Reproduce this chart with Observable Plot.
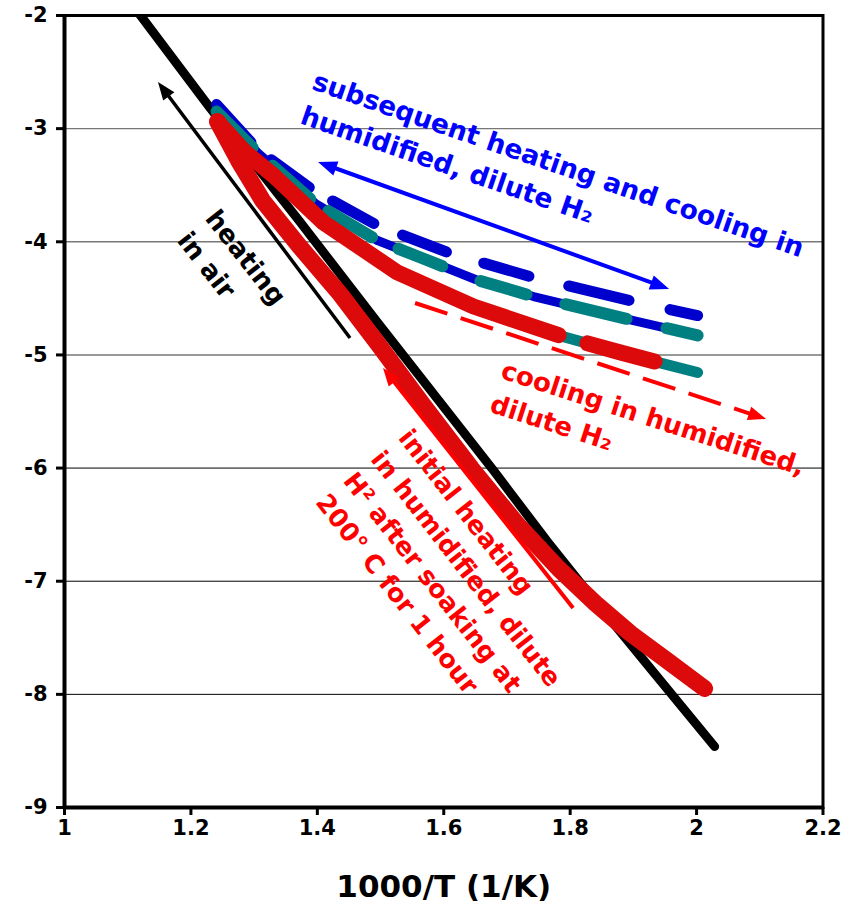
<!DOCTYPE html>
<html><head><meta charset="utf-8">
<script src="https://cdn.jsdelivr.net/npm/d3@7"></script>
<script src="https://cdn.jsdelivr.net/npm/@observablehq/plot@0.6"></script>
<style>body{margin:0;background:#fff} #chart svg{display:block}</style>
</head><body><div id="chart"></div>
<script>
// ---- ticks / labels
const xTicks = [1, 1.2, 1.4, 1.6, 1.8, 2, 2.2];
const yTicks = [-9, -8, -7, -6, -5, -4, -3, -2];
const gridValues = [-3, -4, -5, -6, -7, -8];
const xLabel = "1000/T (1/K)";

// ---- series (x = 1000/T, y = log value)
const airX = [1.1179, 1.2310, 1.3734, 1.4953, 1.6788, 1.7627, 1.8323, 1.9272, 2.0285];
const airY = [-1.982, -2.822, -3.830, -4.713, -6.022, -6.640, -7.126, -7.772, -8.461];

const initHeatX = [1.2421, 1.2753, 1.3133, 1.3734, 1.4367, 1.4980, 1.5680, 1.6440, 1.7168, 1.7816, 1.8402, 1.8956, 1.9557, 2.0127];
const initHeatY = [-2.937, -3.282, -3.635, -4.051, -4.466, -4.917, -5.447, -6.004, -6.499, -6.888, -7.197, -7.462, -7.710, -7.948];

const cycleAX = [1.2405, 1.3070, 1.3940, 1.4953, 1.6108, 1.7421, 1.9003, 2.0016];
const cycleAY = [-2.787, -3.193, -3.547, -3.856, -4.104, -4.316, -4.528, -4.652];

const cycleBX = [1.2405, 1.3054, 1.3972, 1.4953, 1.5633, 1.6503, 1.7421, 1.9003, 2.0016];
const cycleBY = [-2.849, -3.211, -3.662, -3.989, -4.139, -4.333, -4.484, -4.696, -4.828];

const cycleCX = [1.2421, 1.2864, 1.3307, 1.4098, 1.5269, 1.6472, 1.7880, 1.8797, 1.9335, 2.0016];
const cycleCY = [-2.937, -3.211, -3.414, -3.830, -4.272, -4.572, -4.837, -4.979, -5.058, -5.155];

const coolX = [1.2421, 1.2864, 1.3307, 1.4098, 1.5269, 1.6472, 1.7880, 1.8797, 1.9335];
const coolY = [-2.937, -3.211, -3.414, -3.830, -4.272, -4.572, -4.837, -4.979, -5.058];

// ---- annotation arrows (data coordinates)
const arrowX1 = [1.4525, 1.4019, 1.5554, 1.8054];
const arrowY1 = [-4.855, -3.299, -4.5455, -7.241];
const arrowX2 = [1.1487, 1.9573, 2.1108, 1.5047];
const arrowY2 = [-2.592, -4.4218, -5.5708, -5.120];

// ---- annotation texts
const annoText = [
  "heating\nin air",
  "subsequent heating and cooling in\nhumidified, dilute H\u2082",
  "cooling in humidified,\ndilute H\u2082",
  "initial heating\nin humidified, dilute\nH\u00B2 after soaking at\n200\u00B0 C for 1 hour"
];
const annoX = [1.245, 1.400, 1.698, 1.550];
const annoY = [-3.700, -2.495, -5.050, -5.640];

const toRows = (xs, ys) => xs.map((x, i) => ({x, y: ys[i]}));
const air = toRows(airX, airY);
const initHeat = toRows(initHeatX, initHeatY);
const cycleA = toRows(cycleAX, cycleAY);
const cycleB = toRows(cycleBX, cycleBY);
const cycleC = toRows(cycleCX, cycleCY);
const cool = toRows(coolX, coolY);

const annoStyle = [
  {fill: "#000", rotate: 52, size: 26},
  {fill: "#0000ff", rotate: 19, size: 26.5},
  {fill: "#ff0000", rotate: 18, size: 26},
  {fill: "#ff0000", rotate: 52, size: 25.5}
];
const arrowStyle = [
  {color: "#000", width: 3.5, both: false, dash: null, hl: 18, hw: 7},
  {color: "#0000ff", width: 4, both: true, dash: null, hl: 19, hw: 7.5},
  {color: "#ff0000", width: 4, both: false, dash: "34,14", hl: 18, hw: 7},
  {color: "#ff0000", width: 4, both: false, dash: null, hl: 18, hw: 7}
];

const FONT = "'DejaVu Sans', Verdana, sans-serif";
const lineOpts = {x: "x", y: "y", strokeLinecap: "round", strokeLinejoin: "round"};

const plot = Plot.plot({
  width: 846, height: 910,
  marginLeft: 64, marginRight: 23.5, marginTop: 15, marginBottom: 103,
  x: {domain: [1, 2.2]},
  y: {domain: [-9, -2]},
  style: {fontFamily: FONT, background: "#fff", overflow: "visible"},
  marks: [
    Plot.ruleY(gridValues.filter(v => v >= -5), {stroke: "#777", strokeWidth: 1.4}),
    Plot.ruleY(gridValues.filter(v => v < -5), {stroke: "#000", strokeWidth: 1}),
    Plot.line(air, {...lineOpts, stroke: "#000", strokeWidth: 9, clip: true}),
    Plot.line(cycleA, {...lineOpts, stroke: "#0000cc", strokeWidth: 11,
      strokeDasharray: "51,27,47,27,47,31,47,39,47,41,62,42,80"}),
    Plot.line(cycleB, {...lineOpts, stroke: "#0000cc", strokeWidth: 9}),
    Plot.line(cycleB, {...lineOpts, stroke: "#008080", strokeWidth: 12,
      strokeDasharray: "51,27,50,22,51,29,47,41,48,40,63,41,80"}),
    Plot.line(cycleC, {...lineOpts, stroke: "#008080", strokeWidth: 11}),
    Plot.line(cool, {...lineOpts, stroke: "#dc0a0a", strokeWidth: 16, strokeDasharray: "409,30,300"}),
    Plot.line(initHeat, {...lineOpts, stroke: "#dc0a0a", strokeWidth: 17}),
    Plot.frame({stroke: "#000", strokeWidth: 3}),
    Plot.ruleX([1], {stroke: "#000", strokeWidth: 4}),
    Plot.ruleY([-9], {stroke: "#000", strokeWidth: 4}),
    Plot.axisY(yTicks, {tickSize: 8, tickPadding: 9, fontSize: 21, fontWeight: "bold",
      strokeWidth: 3, tickFormat: d => String(d), label: null, fill: "#000"}),
    Plot.axisX(xTicks, {tickSize: 8, tickPadding: 5, fontSize: 21, fontWeight: "bold",
      strokeWidth: 3, tickFormat: d => String(d), label: null, fill: "#000"}),
    Plot.text([xLabel], {text: d => d, frameAnchor: "bottom", dy: 80, fontSize: 31,
      fontWeight: "bold", lineAnchor: "middle", fill: "#000"})
  ]
});

const sx = plot.scale("x"), sy = plot.scale("y");
const svg = d3.select(plot);

// arrows via the plot's own scales
const g = svg.append("g").attr("class", "arrows");
arrowX1.forEach((_, i) => {
  const st = arrowStyle[i];
  const X1 = sx.apply(arrowX1[i]), Y1 = sy.apply(arrowY1[i]);
  const X2 = sx.apply(arrowX2[i]), Y2 = sy.apply(arrowY2[i]);
  const L = Math.hypot(X2 - X1, Y2 - Y1), ux = (X2 - X1) / L, uy = (Y2 - Y1) / L;
  const sh = st.hl * 0.7;
  const a1 = st.both ? [X1 + ux * sh, Y1 + uy * sh] : [X1, Y1];
  const a2 = [X2 - ux * sh, Y2 - uy * sh];
  const ln = g.append("line").attr("x1", a1[0]).attr("y1", a1[1]).attr("x2", a2[0]).attr("y2", a2[1])
    .attr("stroke", st.color).attr("stroke-width", st.width);
  if (st.dash) ln.attr("stroke-dasharray", st.dash);
  const head = (tx, ty, dx, dy) => {
    const bx = tx - dx * st.hl, by = ty - dy * st.hl;
    const px = -dy * st.hw, py = dx * st.hw;
    g.append("polygon").attr("points", `${tx},${ty} ${bx + px},${by + py} ${bx - px},${by - py}`)
      .attr("fill", st.color);
  };
  head(X2, Y2, ux, uy);
  if (st.both) head(X1, Y1, -ux, -uy);
});

// rotated annotation texts, positioned with the plot's scales
const gt = svg.append("g").attr("class", "annotations")
  .attr("font-family", FONT).attr("font-weight", "bold").attr("text-anchor", "start");
annoText.forEach((t, i) => {
  const st = annoStyle[i];
  const X = sx.apply(annoX[i]), Y = sy.apply(annoY[i]);
  const txt = gt.append("text")
    .attr("transform", `translate(${X},${Y}) rotate(${st.rotate})`)
    .attr("text-anchor", "start")
    .attr("fill", st.fill).attr("font-size", st.size);
  t.split("\n").forEach((line, k) => {
    txt.append("tspan").attr("x", 0).attr("dy", k === 0 ? "0.71em" : "1.37em").text(line);
  });
});

document.getElementById("chart").appendChild(plot);
</script>
</body></html>
